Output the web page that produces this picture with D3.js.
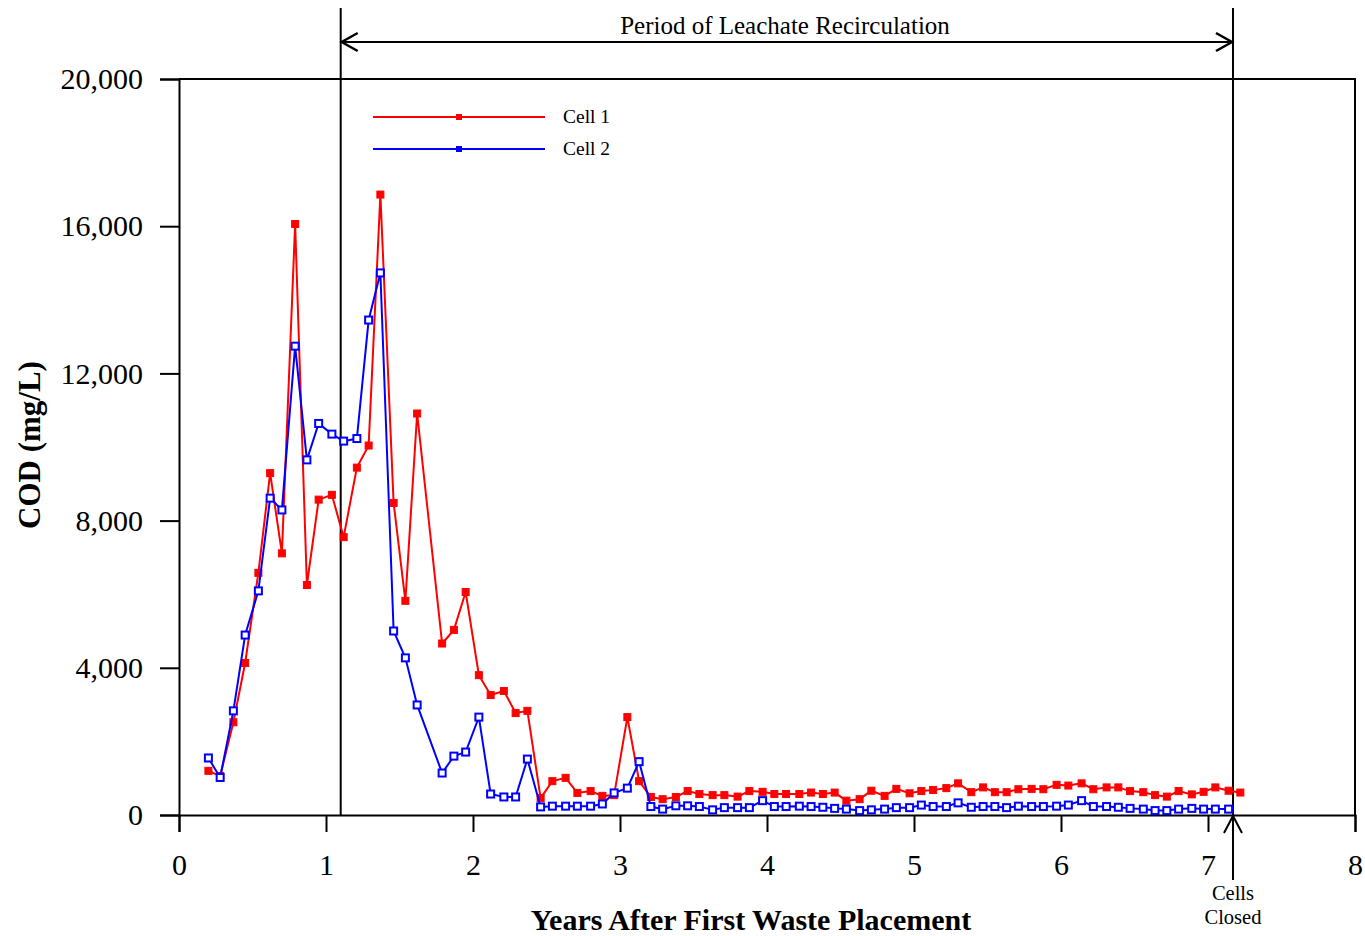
<!DOCTYPE html>
<html>
<head>
<meta charset="utf-8">
<script src="https://cdn.jsdelivr.net/npm/d3@7"></script>
<style>
  body { margin: 0; background: #fff; }
  svg { display: block; font-family: "Liberation Serif", "Times New Roman", serif; }
</style>
</head>
<body>
<div id="chart"></div>
<script>
// sampling times (years after first waste placement)
const years = [0.20, 0.28, 0.37, 0.45, 0.54, 0.62, 0.70, 0.79, 0.87, 0.95,
  1.04, 1.12, 1.21, 1.29, 1.37, 1.46, 1.54, 1.62, 1.79, 1.87,
  1.95, 2.04, 2.12, 2.21, 2.29, 2.37, 2.46, 2.54, 2.63, 2.71,
  2.80, 2.88, 2.96, 3.05, 3.13, 3.21, 3.29, 3.38, 3.46, 3.54,
  3.63, 3.71, 3.80, 3.88, 3.97, 4.05, 4.13, 4.22, 4.30, 4.38,
  4.46, 4.54, 4.63, 4.71, 4.80, 4.88, 4.97, 5.05, 5.13, 5.22,
  5.30, 5.39, 5.47, 5.55, 5.63, 5.71, 5.80, 5.88, 5.97, 6.05,
  6.14, 6.22, 6.31, 6.39, 6.47, 6.56, 6.64, 6.72, 6.80, 6.89,
  6.97, 7.05, 7.14, 7.22];

// COD mg/L
const cell1 = [1200, 1060, 2520, 4130, 6580, 9290, 7110, 16060, 6250, 8570,
  8700, 7550, 9440, 10040, 16860, 8480, 5820, 10910, 4660, 5030,
  6060, 3800, 3260, 3370, 2770, 2830, 460, 920, 1010, 600,
  650, 520, 540, 2660, 920, 490, 430, 490, 650, 570,
  540, 540, 500, 650, 630, 570, 570, 570, 610, 570,
  610, 390, 430, 660, 520, 710, 590, 650, 680, 730,
  860, 620, 750, 620, 620, 700, 710, 700, 820, 800,
  860, 700, 750, 750, 650, 620, 540, 500, 650, 560,
  630, 750, 660, 610];

const cell2 = [1550, 1020, 2830, 4890, 6090, 8610, 8290, 12740, 9650, 10640,
  10350, 10160, 10230, 13450, 14730, 5000, 4270, 2990, 1140, 1600,
  1710, 2660, 570, 490, 490, 1520, 220, 240, 240, 240,
  240, 300, 600, 730, 1450, 230, 160, 250, 250, 230,
  140, 200, 200, 200, 390, 230, 230, 240, 230, 210,
  180, 160, 120, 140, 160, 200, 200, 270, 230, 230,
  330, 210, 230, 230, 200, 240, 230, 230, 240, 270,
  390, 230, 230, 210, 180, 160, 120, 120, 160, 180,
  160, 160, 160];

const yTicks = [0, 4000, 8000, 12000, 16000, 20000];
const xTicks = [0, 1, 2, 3, 4, 5, 6, 7, 8];
const recircStart = 1.10;
const recircEnd = 7.17;

const W = 1365, H = 936;
const svg = d3.select("#chart").append("svg")
  .attr("width", W)
  .attr("height", H);

const x = d3.scaleLinear().domain([0, 8]).range([179, 1355]);
const y = d3.scaleLinear().domain([0, 20000]).range([815, 79]);

// frame top + right
svg.append("path")
  .attr("d", `M${x(0)},${y(20000)}H${x(8)}V${y(0)}`)
  .attr("fill", "none").attr("stroke", "#000").attr("stroke-width", 2);

// axes
const yAxis = d3.axisLeft(y).tickValues(yTicks).tickFormat(d3.format(",")).tickSize(19).tickPadding(17);
const xAxis = d3.axisBottom(x).tickValues(xTicks).tickFormat(d3.format("d")).tickSize(17).tickPadding(22);

const gy = svg.append("g").attr("transform", `translate(${x(0)},0)`).call(yAxis);
const gx = svg.append("g").attr("transform", `translate(0,${y(0)})`).call(xAxis);
[gy, gx].forEach(g => {
  g.select(".domain").attr("stroke-width", 2);
  g.selectAll(".tick line").attr("stroke-width", 2);
  g.selectAll(".tick text").attr("font-size", 30).attr("font-family", "Liberation Serif").attr("fill", "#000");
});

// axis titles
svg.append("text")
  .attr("transform", "translate(40,445) rotate(-90)")
  .attr("text-anchor", "middle")
  .attr("font-size", 31).attr("font-weight", "bold")
  .text("COD (mg/L)");
svg.append("text")
  .attr("x", 751).attr("y", 930)
  .attr("text-anchor", "middle")
  .attr("font-size", 30).attr("font-weight", "bold")
  .text("Years After First Waste Placement");

// recirculation period
[recircStart, recircEnd].forEach(v => {
  svg.append("line")
    .attr("x1", x(v)).attr("x2", x(v)).attr("y1", 8).attr("y2", y(0))
    .attr("stroke", "#000").attr("stroke-width", 2);
});
const ay = 42;
svg.append("line")
  .attr("x1", x(recircStart)).attr("x2", x(recircEnd)).attr("y1", ay).attr("y2", ay)
  .attr("stroke", "#000").attr("stroke-width", 2);
svg.append("path")
  .attr("d", `M${x(recircStart) + 17},${ay - 9}L${x(recircStart) + 1},${ay}L${x(recircStart) + 17},${ay + 9}` +
    `M${x(recircEnd) - 17},${ay - 9}L${x(recircEnd) - 1},${ay}L${x(recircEnd) - 17},${ay + 9}`)
  .attr("fill", "none").attr("stroke", "#000").attr("stroke-width", 2.5);
svg.append("text")
  .attr("x", 785).attr("y", 34)
  .attr("text-anchor", "middle").attr("font-size", 25)
  .text("Period of Leachate Recirculation");

// cells closed arrow
svg.append("path")
  .attr("d", `M${x(recircEnd)},${y(0) + 65}V${y(0) + 1}M${x(recircEnd) - 9},${y(0) + 18}L${x(recircEnd)},${y(0) + 1}L${x(recircEnd) + 9},${y(0) + 18}`)
  .attr("fill", "none").attr("stroke", "#000").attr("stroke-width", 2);
svg.append("text")
  .attr("x", x(recircEnd)).attr("y", 900)
  .attr("text-anchor", "middle").attr("font-size", 20.5)
  .text("Cells");
svg.append("text")
  .attr("x", x(recircEnd)).attr("y", 924)
  .attr("text-anchor", "middle").attr("font-size", 20.5)
  .text("Closed");

// series
const series = [
  { name: "Cell 1", values: cell1, color: "#ff0000", hollow: false },
  { name: "Cell 2", values: cell2, color: "#0000ff", hollow: true }
];

const line = d3.line()
  .x(d => x(d[0]))
  .y(d => y(d[1]));

series.forEach(s => {
  const pts = s.values.map((v, i) => [years[i], v]);
  const g = svg.append("g");
  g.append("path")
    .attr("d", line(pts))
    .attr("fill", "none").attr("stroke", s.color).attr("stroke-width", 2);
  g.selectAll("rect").data(pts).join("rect")
    .attr("x", d => x(d[0]) - 3.5).attr("y", d => y(d[1]) - 3.5)
    .attr("width", 7).attr("height", 7)
    .attr("fill", s.hollow ? "#fff" : s.color)
    .attr("stroke", s.color).attr("stroke-width", s.hollow ? 2 : 1);
});

// legend
series.forEach((s, i) => {
  const ly = 117 + i * 32;
  svg.append("line")
    .attr("x1", 373).attr("x2", 545).attr("y1", ly).attr("y2", ly)
    .attr("stroke", s.color).attr("stroke-width", 2);
  svg.append("rect")
    .attr("x", 456).attr("y", ly - 3).attr("width", 6).attr("height", 6)
    .attr("fill", s.color);
  svg.append("text")
    .attr("x", 563).attr("y", ly + 6)
    .attr("font-size", 19.5)
    .text(s.name);
});
</script>
</body>
</html>
